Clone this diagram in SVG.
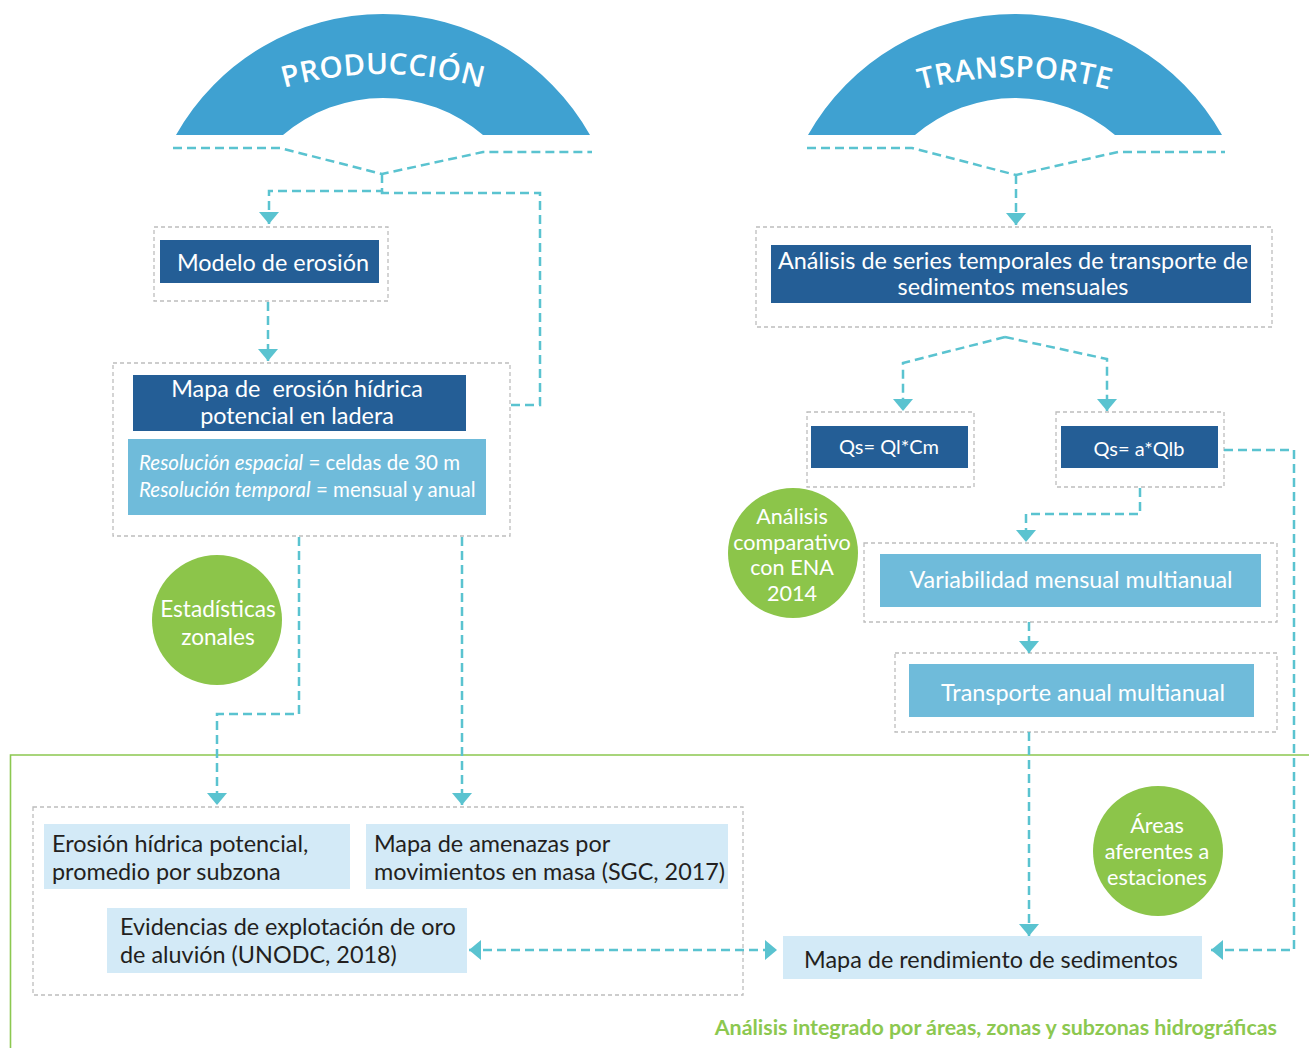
<svg xmlns="http://www.w3.org/2000/svg" width="1309" height="1048" viewBox="0 0 1309 1048">
<style>
.arc{fill:#3FA1D1}
.arct{font-family:"Open Sans","Noto Sans",sans-serif;font-weight:600;font-size:29.5px;letter-spacing:0.4px;fill:#fff}
.gbox{fill:none;stroke:#BDBDBD;stroke-width:1.3;stroke-dasharray:4 3}
.dark{fill:#245E96}
.light{fill:#6FBBDA}
.pale{fill:#D3EAF7}
.circ{fill:#8CC54A}
.t{font-family:Lato,"Liberation Sans",sans-serif;font-size:23.4px}
.w{fill:#fff}
.k{fill:#231F20}
.c{text-anchor:middle}
.cs{font-size:21.6px}
.con{fill:none;stroke:#5AC3D0;stroke-width:2.5;stroke-dasharray:9 5}
</style>
<defs>
<marker id="ah" viewBox="0 0 12 20" refX="12" refY="10" markerWidth="12" markerHeight="20" markerUnits="userSpaceOnUse" orient="auto-start-reverse">
<path d="M0,0 L12,10 L0,20 Z" fill="#5AC3D0"/>
</marker>
<path id="tp1" d="M23,434 A360,360 0 0 1 743,434"/>
<path id="tp2" d="M655,437 A360,360 0 0 1 1375,437"/>
</defs>

<g id="frame">
<path d="M1309,755 H10.5 V1048" fill="none" stroke="#8CC850" stroke-width="1.6"/>
<text class="t" x="1277" y="1035" text-anchor="end" font-weight="700" fill="#8CC850" style="font-size:21.4px">Análisis integrado por áreas, zonas y subzonas hidrográficas</text>
</g>

<g id="produccion">
<path class="arc" d="M176,135 A237.6,237.6 0 0 1 590,135 L483,135 A153.6,153.6 0 0 0 283,135 Z"/>
<text class="arct"><textPath href="#tp1" startOffset="50%" text-anchor="middle">PRODUCCIÓN</textPath></text>
</g>

<g id="transporte">
<path class="arc" d="M808,135 A237.6,237.6 0 0 1 1222,135 L1115,135 A153.6,153.6 0 0 0 915,135 Z"/>
<text class="arct"><textPath href="#tp2" startOffset="50%" text-anchor="middle">TRANSPORTE</textPath></text>
</g>

<g id="modelo">
<rect class="gbox" x="154" y="227" width="234" height="74"/>
<rect class="dark" x="160" y="240" width="219" height="43"/>
<text class="t w c" x="273" y="271">Modelo de erosión</text>
</g>

<g id="mapa-erosion">
<rect class="gbox" x="113" y="363" width="397" height="173"/>
<rect class="dark" x="133" y="375" width="333" height="56"/>
<text class="t w c" x="297" y="397" xml:space="preserve">Mapa de  erosión hídrica</text>
<text class="t w c" x="297" y="424">potencial en ladera</text>
<rect class="light" x="128" y="439" width="358" height="76"/>
<text class="t w" x="139" y="470" style="font-size:20.5px"><tspan font-style="italic">Resolución espacial</tspan> = celdas de 30 m</text>
<text class="t w" x="139" y="497" style="font-size:20.5px"><tspan font-style="italic">Resolución temporal</tspan> = mensual y anual</text>
</g>

<g id="estadisticas">
<circle class="circ" cx="217" cy="620" r="65"/>
<text class="t w c" x="218" y="617" style="font-size:22.6px">Estadísticas</text>
<text class="t w c" x="218" y="645" style="font-size:22.6px">zonales</text>
</g>

<g id="analisis-series">
<rect class="gbox" x="756" y="227" width="516" height="100"/>
<rect class="dark" x="771" y="245" width="480" height="58"/>
<text class="t w c" x="1013" y="269">Análisis de series temporales de transporte de</text>
<text class="t w c" x="1013" y="295">sedimentos mensuales</text>
</g>

<g id="qs1">
<rect class="gbox" x="807" y="412" width="167" height="75"/>
<rect class="dark" x="811" y="426" width="157" height="42"/>
<text class="t w c" x="889" y="454" style="font-size:20px">Qs= Ql*Cm</text>
</g>

<g id="qs2">
<rect class="gbox" x="1056" y="412" width="168" height="75"/>
<rect class="dark" x="1061" y="426" width="157" height="42"/>
<text class="t w c" x="1139" y="456" style="font-size:20px">Qs= a*Qlb</text>
</g>

<g id="comparativo">
<circle class="circ" cx="793" cy="553" r="65"/>
<text class="t w c cs" x="792" y="524">Análisis</text>
<text class="t w c cs" x="792" y="550">comparativo</text>
<text class="t w c cs" x="792" y="575">con ENA</text>
<text class="t w c cs" x="792" y="601">2014</text>
</g>

<g id="variabilidad">
<rect class="gbox" x="864" y="543" width="413" height="79"/>
<rect class="light" x="880" y="554" width="381" height="53"/>
<text class="t w c" x="1071" y="588">Variabilidad mensual multianual</text>
</g>

<g id="transporte-anual">
<rect class="gbox" x="895" y="653" width="382" height="79"/>
<rect class="light" x="909" y="664" width="345" height="53"/>
<text class="t w c" x="1083" y="701">Transporte anual multianual</text>
</g>

<g id="grupo-produccion">
<rect class="gbox" x="33" y="807" width="710" height="188"/>
</g>

<g id="erosion-subzona">
<rect class="pale" x="44" y="824" width="306" height="65"/>
<text class="t k" x="52" y="852">Erosión hídrica potencial,</text>
<text class="t k" x="52" y="880">promedio por subzona</text>
</g>

<g id="amenazas">
<rect class="pale" x="366" y="824" width="362" height="65"/>
<text class="t k" x="374" y="852">Mapa de amenazas por</text>
<text class="t k" x="374" y="880">movimientos en masa (SGC, 2017)</text>
</g>

<g id="evidencias">
<rect class="pale" x="107" y="908" width="360" height="65"/>
<text class="t k" x="120" y="935">Evidencias de explotación de oro</text>
<text class="t k" x="120" y="963">de aluvión (UNODC, 2018)</text>
</g>

<g id="areas">
<circle class="circ" cx="1158" cy="851" r="65"/>
<text class="t w c cs" x="1157" y="833">Áreas</text>
<text class="t w c cs" x="1157" y="859">aferentes a</text>
<text class="t w c cs" x="1157" y="885">estaciones</text>
</g>

<g id="rendimiento">
<rect class="pale" x="783" y="936" width="419" height="43"/>
<text class="t k c" x="991" y="968">Mapa de rendimiento de sedimentos</text>
</g>

<g id="connectors">
<polyline class="con" points="173,148 280,148 382,174 483,152 592,152"/>
<path class="con" d="M382,174 V191 H269 V224" marker-end="url(#ah)"/>
<path class="con" d="M382,191 V193 H540 V405 H511"/>
<path class="con" d="M268,302 V361" marker-end="url(#ah)"/>
<path class="con" d="M299,537 V714 H217 V805" marker-end="url(#ah)"/>
<path class="con" d="M462,537 V805" marker-end="url(#ah)"/>
<polyline class="con" points="807,148 912,148 1016,175 1118,152 1225,152"/>
<path class="con" d="M1016,175 V225" marker-end="url(#ah)"/>
<path class="con" d="M1005,337 L903,363 V411" marker-end="url(#ah)"/>
<path class="con" d="M1005,337 L1107,359 V411" marker-end="url(#ah)"/>
<path class="con" d="M1140,488 V514 H1026 V542" marker-end="url(#ah)"/>
<path class="con" d="M1029,622 V653" marker-end="url(#ah)"/>
<path class="con" d="M1029,732 V936" marker-end="url(#ah)"/>
<path class="con" d="M1224,450 H1294 V950 H1211" marker-end="url(#ah)"/>
<path class="con" d="M469,950 H777" marker-start="url(#ah)" marker-end="url(#ah)"/>
</g>
</svg>
